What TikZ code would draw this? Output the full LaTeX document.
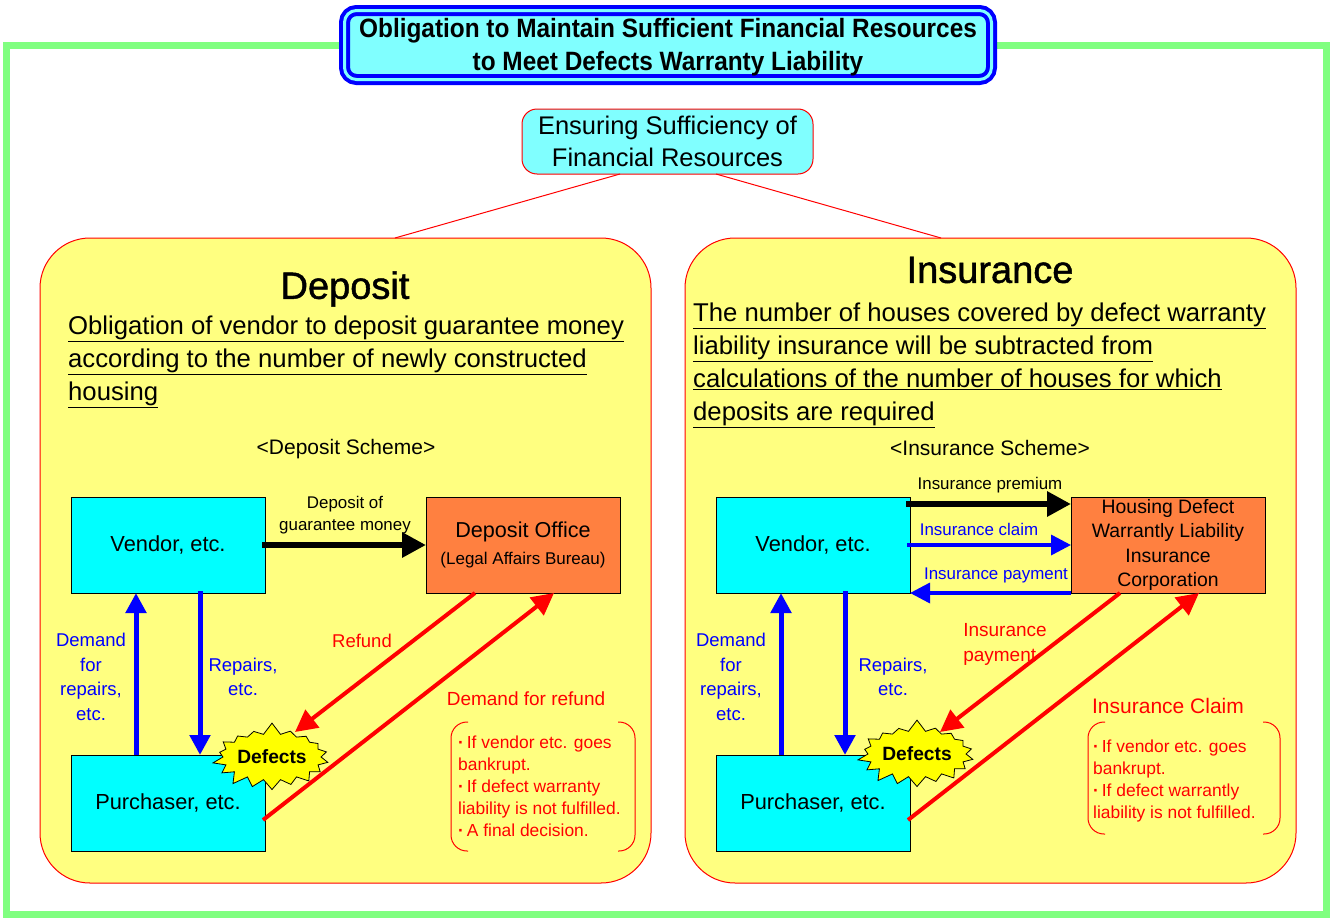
\documentclass[tikz,border=0pt]{standalone}
\usepackage{fontspec}
\setmainfont{Liberation Sans}
\usetikzlibrary{positioning}
\usetikzlibrary{calc}
\usetikzlibrary{shapes}
\usetikzlibrary{arrows.meta}
\definecolor{framegreen}{HTML}{80FF80}
\definecolor{lightcyan}{HTML}{80FFFF}
\definecolor{boxcyan}{HTML}{00FFFF}
\definecolor{panelyellow}{HTML}{FFFF80}
\definecolor{staryellow}{HTML}{FFFF00}
\definecolor{officeorange}{HTML}{FF8040}
\definecolor{linered}{HTML}{FF0000}
\definecolor{lineblue}{HTML}{0000FF}
\tikzset{
    mybox/.style = {rectangle, draw=black, line width=1pt, inner sep=0pt, outer sep=0pt, align=center, minimum width=194pt, minimum height=96pt, font=\fontsize{21.8}{24.5}\selectfont},
    myboxc/.style = {mybox, fill=boxcyan},
    myboxo/.style = {mybox, fill=officeorange},
    mypanel/.style = {rectangle, draw=linered, fill=panelyellow, line width=1pt, rounded corners=50pt, inner sep=0pt, outer sep=0pt, minimum width=611pt, minimum height=645pt},
    mystar/.style = {starburst, draw=black, fill=staryellow, line width=0.8pt, starburst points=18, starburst point height=12pt, random starburst=7, inner sep=0pt, outer sep=0pt, minimum width=122pt, minimum height=70pt, font=\fontsize{19.2}{22}\selectfont\bfseries},
    txt/.style = {inner sep=0pt, align=center, font=\fontsize{18.5}{24.6}\selectfont},
    txtb/.style = {txt, text=lineblue},
    txtr/.style = {txt, text=linered},
    txts/.style = {inner sep=0pt, align=center, font=\fontsize{16.9}{22}\selectfont},
    txtscheme/.style = {inner sep=0pt, align=center, font=\fontsize{21}{24}\selectfont},
    txtbody/.style = {inner sep=0pt, align=left, anchor=west, font=\fontsize{25.7}{33}\selectfont},
    txthead/.style = {inner sep=0pt, font=\fontsize{38}{40}\selectfont\addfontfeature{FakeBold=1.2}},
    txtlist/.style = {inner sep=0pt, align=left, anchor=north west, text=linered, font=\fontsize{17.4}{21.8}\selectfont},
    edgen/.style = {-{Triangle[length=24pt,width=24pt]},line width=6pt,black},
    edgeb/.style = {-{Triangle[length=20pt,width=20pt]},line width=5pt,lineblue},
    edgebs/.style = {-{Triangle[length=20pt,width=20pt]},line width=3.5pt,lineblue},
    edger/.style = {-{Triangle[length=22pt,width=22pt]},line width=4pt,linered},
    edgel/.style = {-,line width=1pt,linered},
    edgec/.style = {-,line width=1pt,linered,rounded corners=16pt}
}
\newcommand{\listdot}{\textbf{·}\,}
\begin{document}
\begin{tikzpicture}[x=1pt,y=-1pt]
\useasboundingbox (0,0) rectangle (1330,918);
%
\node[draw=framegreen,line width=7pt,minimum width=1320pt,minimum height=869pt,inner sep=0pt] at (666,479.5) (frame) {};
\node[draw=lineblue,fill=lightcyan,double=lightcyan,double distance=3pt,line width=4pt,rounded corners=12pt,minimum width=647pt,minimum height=69pt,inner sep=0pt,outer sep=0pt,align=center,font=\fontsize{26.5}{32.5}\selectfont\bfseries\addfontfeature{FakeStretch=0.92}] at (668,45) (titlebox) {\rule{0pt}{23pt}Obligation to Maintain Sufficient Financial Resources\\to Meet Defects Warranty Liability};
\node[draw=linered,fill=lightcyan,line width=1pt,rounded corners=15pt,minimum width=291pt,minimum height=65pt,inner sep=0pt,outer sep=0pt,align=center,font=\fontsize{25.5}{32.5}\selectfont] at (667.5,141.5) (ensure) {Ensuring Sufficiency of\\Financial Resources};
%
\node[mypanel] at (345.5,560.5) (depositpanel) {};
\node[mypanel] at (990.5,560.5) (insurepanel) {};
\draw[edgel] ([xshift=-47.5pt]ensure.south) -- ([xshift=49.5pt]depositpanel.north);
\draw[edgel] ([xshift=48.5pt]ensure.south) -- ([xshift=-49.5pt]insurepanel.north);
%
% deposit side
\node[txthead] at (345,289) (dephead) {Deposit};
\node[txtbody] at (68,362) (depbody) {\underline{Obligation of vendor to deposit guarantee money}\\\underline{according to the number of newly constructed}\\\underline{housing}};
\node[txtscheme] at (346,449) (depscheme) {<Deposit Scheme>};
\node[myboxc] at (168,545) (vendora) {Vendor, etc.};
\node[myboxo,font=\fontsize{17}{22}\selectfont] at (523,545) (office) {{\fontsize{21.6}{24}\selectfont Deposit Office}\\[5pt](Legal Affairs Bureau)};
\node[myboxc] at (168,803) (purchasera) {Purchaser, etc.};
\node[mystar] at (272,757) (defecta) {Defects};
\node[txts] at (345,515) (depmoney) {Deposit of\\guarantee money};
\node[txtb] at (91,677) (demanda) {Demand\\for\\repairs,\\etc.};
\node[txtb] at (243,677) (repairsa) {Repairs,\\etc.};
\node[txtr] at (362,641) (refund) {Refund};
\node[txtr,font=\fontsize{19}{24}\selectfont] at (526,699) (demandrefund) {Demand for refund};
\node[txtlist] at (458,736) (listcasea) {\listdot If vendor etc. goes\\bankrupt.\\\listdot If defect warranty\\liability is not fulfilled.\\\listdot A final decision.};
\coordinate (bracketa) at (451,722);
\coordinate (bracketb) at (635,851);
\draw[edgec] ($(bracketa)+(17,0)$) -- (bracketa) -- (bracketa|-bracketb) -- ($(bracketa|-bracketb)+(17,0)$);
\draw[edgec] ($(bracketb|-bracketa)+(-17,0)$) -- (bracketb|-bracketa) -- (bracketb) -- ($(bracketb)+(-17,0)$);
%
\draw[edgen] ([xshift=-3pt]vendora.east) -- (office.west);
\draw[edgeb] ([xshift=-32pt]purchasera.north) -- ([xshift=-32pt]vendora.south);
\draw[edgeb] ([xshift=32pt,yshift=2pt]vendora.south) -- ([xshift=32pt]purchasera.north);
\draw[edger] ([xshift=-48pt]office.south) -- ([shift={(23,-25)}]defecta.center);
\draw[edger] ([shift={(-2,17)}]purchasera.east) -- ([xshift=31pt]office.south);
%
% insurance side
\node[txthead] at (990,270) (inshead) {Insurance};
\node[txtbody] at (693,365.5) (insbody) {\underline{The number of houses covered by defect warranty}\\\underline{liability insurance will be subtracted from}\\\underline{calculations of the number of houses for which}\\\underline{deposits are required}};
\node[txtscheme] at (990,448) (insscheme) {<Insurance Scheme>};
\node[myboxc] at (813,545) (vendorb) {Vendor, etc.};
\node[myboxo,font=\fontsize{19.4}{24.4}\selectfont] at (1168,545) (corporation) {Housing Defect\\Warrantly Liability\\Insurance\\Corporation};
\node[myboxc] at (813,803) (purchaserb) {Purchaser, etc.};
\node[mystar] at (917,754) (defectb) {Defects};
\node[txts] at (990,485) (premium) {Insurance premium};
\node[txts,text=lineblue] at (979,529) (claim) {Insurance claim};
\node[txts,text=lineblue] at (996,575) (payment) {Insurance payment};
\node[txtb] at (731,677) (demandb) {Demand\\for\\repairs,\\etc.};
\node[txtb] at (893,677) (repairsb) {Repairs,\\etc.};
\node[txtr,align=left,font=\fontsize{19}{25}\selectfont] at (1005,644) (paymentr) {Insurance\\payment};
\node[txtr,font=\fontsize{21}{24}\selectfont] at (1168,706) (claimr) {Insurance Claim};
\node[txtlist] at (1093,740) (listcaseb) {\listdot If vendor etc. goes\\bankrupt.\\\listdot If defect warrantly\\liability is not fulfilled.};
\coordinate (bracketc) at (1088,722);
\coordinate (bracketd) at (1280,834);
\draw[edgec] ($(bracketc)+(17,0)$) -- (bracketc) -- (bracketc|-bracketd) -- ($(bracketc|-bracketd)+(17,0)$);
\draw[edgec] ($(bracketd|-bracketc)+(-17,0)$) -- (bracketd|-bracketc) -- (bracketd) -- ($(bracketd)+(-17,0)$);
%
\draw[edgen] ([shift={(-4,-41)}]vendorb.east) -- ([yshift=41pt]corporation.west);
\draw[edgebs] ([xshift=-3pt]vendorb.east) -- (corporation.west);
\draw[edgebs] (corporation.south west) -- (vendorb.south east);
\draw[edgeb] ([xshift=-32pt]purchaserb.north) -- ([xshift=-32pt]vendorb.south);
\draw[edgeb] ([xshift=32pt,yshift=2pt]vendorb.south) -- ([xshift=32pt]purchaserb.north);
\draw[edger] ([xshift=-48pt]corporation.south) -- ([shift={(23,-22)}]defectb.center);
\draw[edger] ([shift={(-2,17)}]purchaserb.east) -- ([xshift=31pt]corporation.south);
%
\end{tikzpicture}
\end{document}
